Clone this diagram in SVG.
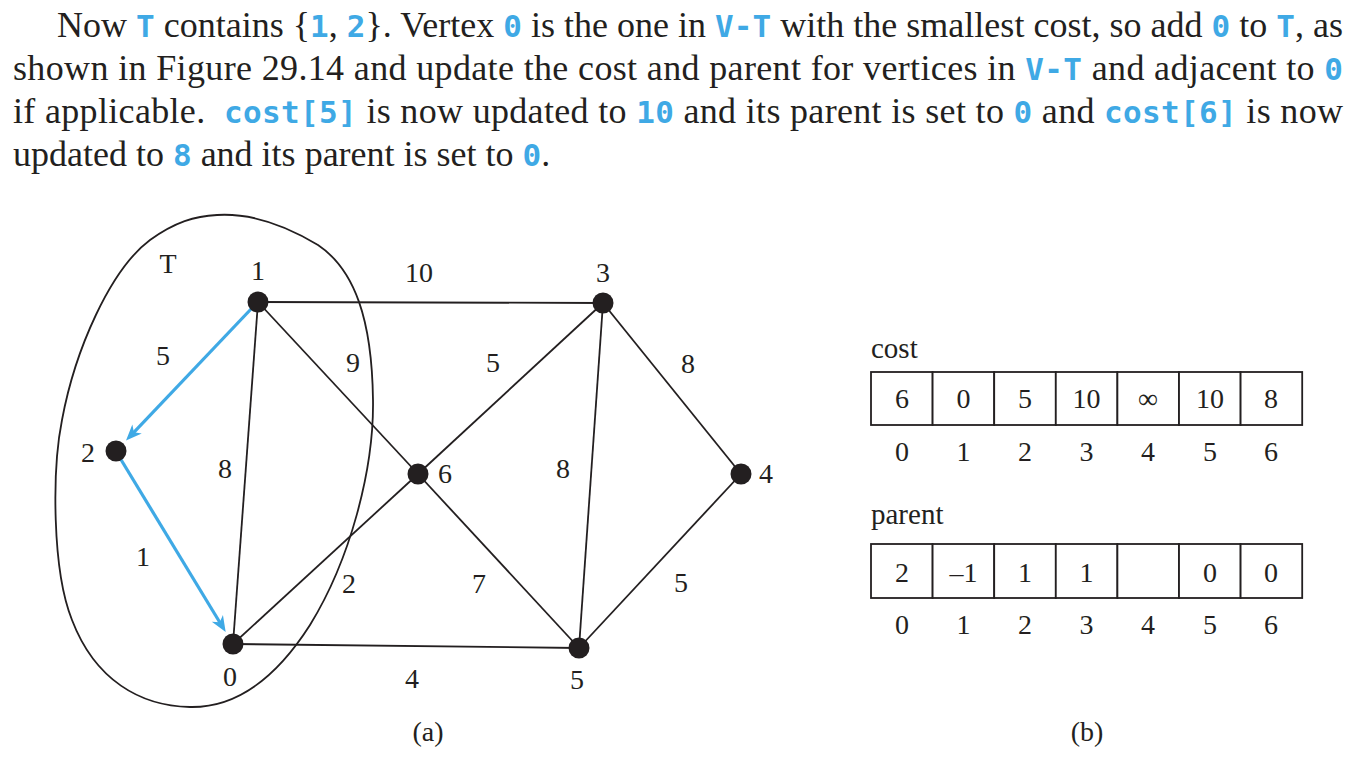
<svg xmlns="http://www.w3.org/2000/svg" width="1362" height="766" viewBox="0 0 1362 766">
<style>
.p{font-family:"Liberation Serif","Times New Roman",serif;font-size:36px;fill:#231f20}
.c{font-family:"DejaVu Sans Mono","Liberation Mono",monospace;font-weight:bold;font-size:31px;fill:#3fa9e5}
.lb{font-family:"Liberation Serif","Times New Roman",serif;font-size:28px;fill:#231f20;text-anchor:middle}
.tl{font-family:"Liberation Serif","Times New Roman",serif;font-size:29px;fill:#231f20}
.e{stroke:#231f20;stroke-width:1.8;fill:none}
.b{stroke:#3fa9e5;stroke-width:3.2;fill:none;marker-end:url(#ah)}
.n{fill:#231f20}
.cell{fill:#fff;stroke:#231f20;stroke-width:1.8}
</style>
<defs>
<marker id="ah" markerUnits="userSpaceOnUse" markerWidth="20" markerHeight="16" refX="0" refY="0" orient="auto" overflow="visible">
<path d="M10,0 L-6,-6.5 L-1.5,0 L-6,6.5 Z" fill="#3fa9e5"/>
</marker>
</defs>
<rect width="1362" height="766" fill="#fff"/>
<g id="paragraph">
<text class="p" x="57" y="37" textLength="1286" lengthAdjust="spacing">Now <tspan class="c">T</tspan> contains {<tspan class="c">1</tspan>, <tspan class="c">2</tspan>}. Vertex <tspan class="c">0</tspan> is the one in <tspan class="c">V-T</tspan> with the smallest cost, so add <tspan class="c">0</tspan> to <tspan class="c">T</tspan>, as</text>
<text class="p" x="13" y="80" textLength="1330" lengthAdjust="spacing">shown in Figure 29.14 and update the cost and parent for vertices in <tspan class="c">V-T</tspan> and adjacent to <tspan class="c">0</tspan></text>
<text class="p" x="13" y="123" textLength="1330" lengthAdjust="spacing">if applicable.&#160; <tspan class="c">cost[5]</tspan> is now updated to <tspan class="c">10</tspan> and its parent is set to <tspan class="c">0</tspan> and <tspan class="c">cost[6]</tspan> is now</text>
<text class="p" x="13" y="166">updated to <tspan class="c">8</tspan> and its parent is set to <tspan class="c">0</tspan>.</text>
</g>
<g id="set-T">
<path class="e" d="M217,215 C250,213 285,225 318,245 C355,270 372,320 373,400 C374,470 350,560 310,625 C280,672 240,708 190,707 C140,706 95,680 72,620 C52,570 52,470 62,420 C75,350 110,270 150,240 C175,222 195,216 217,215 Z"/>
<text class="lb" x="168" y="273">T</text>
</g>
<g id="connectors">
<line class="e" x1="258" y1="302" x2="603" y2="303"/>
<line class="e" x1="258" y1="302" x2="418" y2="474"/>
<line class="e" x1="258" y1="302" x2="233" y2="644"/>
<line class="e" x1="603" y1="303" x2="418" y2="474"/>
<line class="e" x1="603" y1="303" x2="579" y2="648"/>
<line class="e" x1="603" y1="303" x2="741" y2="474"/>
<line class="e" x1="418" y1="474" x2="233" y2="644"/>
<line class="e" x1="418" y1="474" x2="579" y2="648"/>
<line class="e" x1="233" y1="644" x2="579" y2="648"/>
<line class="e" x1="741" y1="474" x2="579" y2="648"/>
<line class="b" x1="252" y1="308" x2="132.9" y2="433.3"/>
<line class="b" x1="120" y1="458" x2="220.5" y2="623.5"/>
<text class="lb" x="419" y="282">10</text>
<text class="lb" x="163" y="365">5</text>
<text class="lb" x="353" y="372">9</text>
<text class="lb" x="225" y="478">8</text>
<text class="lb" x="493" y="372">5</text>
<text class="lb" x="688" y="373">8</text>
<text class="lb" x="563" y="478">8</text>
<text class="lb" x="143" y="566">1</text>
<text class="lb" x="349" y="593">2</text>
<text class="lb" x="479" y="593">7</text>
<text class="lb" x="681" y="592">5</text>
<text class="lb" x="412" y="688">4</text>
</g>
<g id="node-0"><circle class="n" cx="233" cy="644" r="10.5"/><text class="lb" x="230" y="686">0</text></g>
<g id="node-1"><circle class="n" cx="258" cy="302" r="10.5"/><text class="lb" x="258" y="280">1</text></g>
<g id="node-2"><circle class="n" cx="116" cy="451" r="10.5"/><text class="lb" x="88" y="462">2</text></g>
<g id="node-3"><circle class="n" cx="603" cy="303" r="10.5"/><text class="lb" x="603" y="282">3</text></g>
<g id="node-4"><circle class="n" cx="741" cy="474" r="10.5"/><text class="lb" x="766" y="483">4</text></g>
<g id="node-5"><circle class="n" cx="579" cy="648" r="10.5"/><text class="lb" x="577" y="689">5</text></g>
<g id="node-6"><circle class="n" cx="418" cy="474" r="10.5"/><text class="lb" x="445" y="483">6</text></g>
<text class="lb" x="428" y="741">(a)</text>
<g id="cost-table">
<text class="tl" x="871" y="358">cost</text>
<rect class="cell" x="871" y="372" width="61.6" height="53"/>
<rect class="cell" x="932.6" y="372" width="61.6" height="53"/>
<rect class="cell" x="994.2" y="372" width="61.6" height="53"/>
<rect class="cell" x="1055.8" y="372" width="61.6" height="53"/>
<rect class="cell" x="1117.4" y="372" width="61.6" height="53"/>
<rect class="cell" x="1179" y="372" width="61.6" height="53"/>
<rect class="cell" x="1240.6" y="372" width="61.6" height="53"/>
<text class="lb" x="902" y="408">6</text>
<text class="lb" x="963.5" y="408">0</text>
<text class="lb" x="1025" y="408">5</text>
<text class="lb" x="1086.5" y="408">10</text>
<text class="lb" x="1148" y="408">∞</text>
<text class="lb" x="1210" y="408">10</text>
<text class="lb" x="1271" y="408">8</text>
<text class="lb" x="902" y="461">0</text>
<text class="lb" x="963.5" y="461">1</text>
<text class="lb" x="1025" y="461">2</text>
<text class="lb" x="1086.5" y="461">3</text>
<text class="lb" x="1148" y="461">4</text>
<text class="lb" x="1210" y="461">5</text>
<text class="lb" x="1271" y="461">6</text>
</g>
<g id="parent-table">
<text class="tl" x="871" y="524">parent</text>
<rect class="cell" x="871" y="544" width="61.6" height="54"/>
<rect class="cell" x="932.6" y="544" width="61.6" height="54"/>
<rect class="cell" x="994.2" y="544" width="61.6" height="54"/>
<rect class="cell" x="1055.8" y="544" width="61.6" height="54"/>
<rect class="cell" x="1117.4" y="544" width="61.6" height="54"/>
<rect class="cell" x="1179" y="544" width="61.6" height="54"/>
<rect class="cell" x="1240.6" y="544" width="61.6" height="54"/>
<text class="lb" x="902" y="582">2</text>
<text class="lb" x="963.5" y="582">–1</text>
<text class="lb" x="1025" y="582">1</text>
<text class="lb" x="1086.5" y="582">1</text>
<text class="lb" x="1210" y="582">0</text>
<text class="lb" x="1271" y="582">0</text>
<text class="lb" x="902" y="634">0</text>
<text class="lb" x="963.5" y="634">1</text>
<text class="lb" x="1025" y="634">2</text>
<text class="lb" x="1086.5" y="634">3</text>
<text class="lb" x="1148" y="634">4</text>
<text class="lb" x="1210" y="634">5</text>
<text class="lb" x="1271" y="634">6</text>
</g>
<text class="lb" x="1087" y="741">(b)</text>
</svg>
